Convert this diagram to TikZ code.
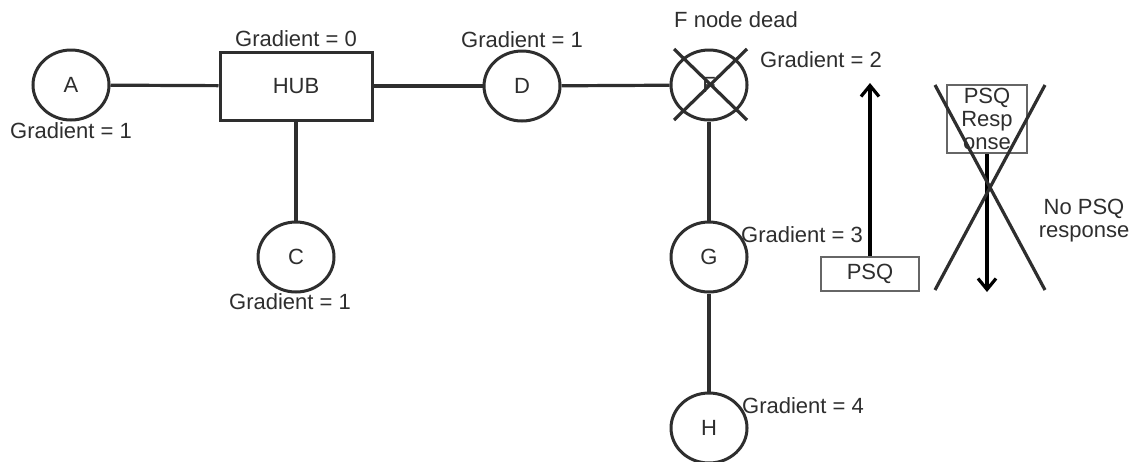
\documentclass[tikz,border=0pt]{standalone}
\usepackage{fontspec}
\setmainfont{Liberation Sans}
\usepackage{xcolor}
\usetikzlibrary{shapes.geometric,positioning,arrows.meta}

\definecolor{linegray}{HTML}{2E2E2E}
\definecolor{boxgray}{HTML}{666666}

\tikzset{
    every node/.style={font=\fontsize{22}{23}\selectfont, text=linegray},
    mote/.style={ellipse, draw=linegray, line width=3pt, minimum width=76pt, minimum height=70pt, inner sep=0pt},
    hubbox/.style={rectangle, draw=linegray, line width=3pt, minimum width=152pt, minimum height=68pt},
    msgbox/.style={rectangle, draw=boxgray, line width=2.5pt, inner sep=0pt},
    link/.style={draw=linegray, line width=3.2pt},
    msg/.style={draw=black, line width=3.2pt, -{Straight Barb[length=11pt, width=18pt]}},
}

\begin{document}
\begin{tikzpicture}[x=1pt, y=-1pt]
    \useasboundingbox[fill=white] (0,0) rectangle (1139,461);

    % Hub and the motes around it
    \node[hubbox] (hub) at (296,86) {HUB};
    \node[mote] (A) at (71,85) {A};
    \node[mote] (C) at (296,257) {C};
    \node[mote] (D) at (522,86) {D};
    \node[mote] (F) at (709,85) {F};
    \node[mote] (G) at (709,257) {G};
    \node[mote] (H) at (709,428) {H};

    \draw[link] (A) -- (hub);
    \draw[link] (hub) -- (C);
    \draw[link] (hub) -- (D);
    \draw[link] (D) -- (F);
    \draw[link] (F) -- (G);
    \draw[link] (G) -- (H);

    % F is dead
    \draw[link] ([shift={(-35,-36)}]F.center) -- ([shift={(38,35)}]F.center);
    \draw[link] ([shift={(-35,35)}]F.center) -- ([shift={(38,-36)}]F.center);
    \node (dead) at (736,20) {F node dead};

    % Gradients
    \node (gA) at (71,131) {Gradient = 1};
    \node (gHub) at (296,39) {Gradient = 0};
    \node (gC) at (290,302) {Gradient = 1};
    \node (gD) at (522,40) {Gradient = 1};
    \node (gF) at (821,60) {Gradient = 2};
    \node (gG) at (802,235) {Gradient = 3};
    \node (gH) at (803,406) {Gradient = 4};

    % PSQ goes up, no response comes back
    \node[msgbox, minimum width=98pt, minimum height=34pt] (psq) at (870,274) {PSQ};
    \coordinate (psqtip) at (psq.north |- 0,83);
    \draw[msg] (psq.north) -- (psqtip);

    \node[msgbox, minimum width=80pt, minimum height=68pt, align=center] (resp) at (987,119) {PSQ\\Resp\\onse};
    \coordinate (resptip) at (resp.south |- 0,292);
    \draw[msg] (resp.south) -- (resptip);

    \draw[link] (935,85) -- (1045,290);
    \draw[link] (1045,85) -- (935,290);
    \node[align=center] (nores) at (1084,221) {No PSQ\\response};
\end{tikzpicture}
\end{document}
